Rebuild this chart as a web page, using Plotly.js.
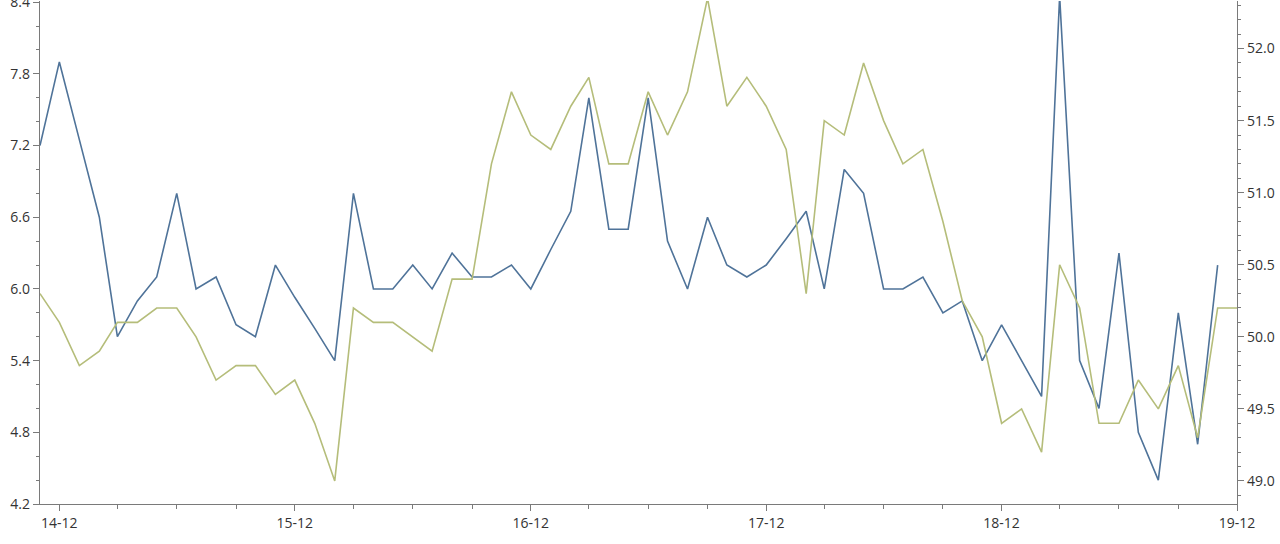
<!DOCTYPE html>
<html>
<head>
<meta charset="utf-8">
<script src="https://cdn.plot.ly/plotly-3.0.1.min.js"></script>
<style>html,body{margin:0;padding:0;background:#fff;}#chart{width:1280px;height:544px;}</style>
</head>
<body>
<div id="chart"></div>
<script>
const months = [
  "2014-11-01","2014-12-01",
  "2015-01-01","2015-02-01","2015-03-01","2015-04-01","2015-05-01","2015-06-01","2015-07-01","2015-08-01","2015-09-01","2015-10-01","2015-11-01","2015-12-01",
  "2016-01-01","2016-02-01","2016-03-01","2016-04-01","2016-05-01","2016-06-01","2016-07-01","2016-08-01","2016-09-01","2016-10-01","2016-11-01","2016-12-01",
  "2017-01-01","2017-02-01","2017-03-01","2017-04-01","2017-05-01","2017-06-01","2017-07-01","2017-08-01","2017-09-01","2017-10-01","2017-11-01","2017-12-01",
  "2018-01-01","2018-02-01","2018-03-01","2018-04-01","2018-05-01","2018-06-01","2018-07-01","2018-08-01","2018-09-01","2018-10-01","2018-11-01","2018-12-01",
  "2019-01-01","2019-02-01","2019-03-01","2019-04-01","2019-05-01","2019-06-01","2019-07-01","2019-08-01","2019-09-01","2019-10-01","2019-11-01","2019-12-01"
];

// Blue series (left axis), 2014-11 .. 2019-11
const blueValues = [
  7.2, 7.9, 7.25, 6.6, 5.6, 5.9, 6.1, 6.8, 6.0, 6.1, 5.7, 5.6,
  6.2, 5.93, 5.67, 5.4, 6.8, 6.0, 6.0, 6.2, 6.0, 6.3, 6.1, 6.1,
  6.2, 6.0, 6.33, 6.65, 7.6, 6.5, 6.5, 7.6, 6.4, 6.0, 6.6, 6.2,
  6.1, 6.2, 6.42, 6.65, 6.0, 7.0, 6.8, 6.0, 6.0, 6.1, 5.8, 5.9,
  5.4, 5.7, 5.4, 5.1, 8.45, 5.4, 5.0, 6.3, 4.8, 4.4, 5.8, 4.7, 6.2
];

// Green series (right axis), 2014-11 .. 2019-12
const greenValues = [
  50.3, 50.1, 49.8, 49.9, 50.1, 50.1, 50.2, 50.2, 50.0, 49.7, 49.8, 49.8,
  49.6, 49.7, 49.4, 49.0, 50.2, 50.1, 50.1, 50.0, 49.9, 50.4, 50.4, 51.2,
  51.7, 51.4, 51.3, 51.6, 51.8, 51.2, 51.2, 51.7, 51.4, 51.7, 52.35, 51.6,
  51.8, 51.6, 51.3, 50.3, 51.5, 51.4, 51.9, 51.5, 51.2, 51.3, 50.8, 50.25,
  50.0, 49.4, 49.5, 49.2, 50.5, 50.2, 49.4, 49.4, 49.7, 49.5, 49.8, 49.3,
  50.2, 50.2
];

const leftTickVals = [4.2, 4.8, 5.4, 6.0, 6.6, 7.2, 7.8, 8.4];
const leftTickText = ["4.2", "4.8", "5.4", "6.0", "6.6", "7.2", "7.8", "8.4"];
const leftRange = [4.2, 8.41];
const rightRange = [48.84, 52.33];
const xRange = ["2014-11-01", "2019-12-01"];

const axisColor = "#7a7a7a";
const textColor = "#333333";

const traces = [
  {
    x: months.slice(0, blueValues.length),
    y: blueValues,
    type: "scatter",
    mode: "lines",
    line: {color: "#4f7399", width: 1.6},
    yaxis: "y",
    hoverinfo: "x+y"
  },
  {
    x: months.slice(0, greenValues.length),
    y: greenValues,
    type: "scatter",
    mode: "lines",
    line: {color: "#b5bd7a", width: 1.6},
    yaxis: "y2",
    hoverinfo: "x+y"
  }
];

const layout = {
  width: 1280,
  height: 544,
  margin: {l: 40, r: 43, t: 1, b: 40, pad: 0},
  paper_bgcolor: "#ffffff",
  plot_bgcolor: "#ffffff",
  showlegend: false,
  font: {family: "Open Sans, Noto Sans, sans-serif", size: 14, color: textColor},
  xaxis: {
    type: "date",
    range: xRange,
    tick0: "2014-12-01",
    dtick: "M12",
    tickformat: "%y-%m",
    ticks: "outside",
    ticklen: 6,
    tickwidth: 1,
    tickcolor: axisColor,
    showline: true,
    linecolor: axisColor,
    linewidth: 1.2,
    showgrid: false,
    zeroline: false,
    tickfont: {size: 14, color: textColor},
    minor: {ticks: "outside", ticklen: 4, tickcolor: axisColor, dtick: "M3", tick0: "2014-12-01", showgrid: false},
    fixedrange: true
  },
  yaxis: {
    range: leftRange,
    tickmode: "array",
    tickvals: leftTickVals,
    ticktext: leftTickText,
    ticklabeloverflow: "allow",
    ticks: "outside",
    ticklen: 6,
    tickwidth: 1,
    tickcolor: axisColor,
    showline: true,
    linecolor: axisColor,
    linewidth: 1.2,
    showgrid: false,
    zeroline: false,
    tickfont: {size: 14, color: textColor},
    minor: {ticks: "outside", ticklen: 3, tickcolor: axisColor, dtick: 0.2, tick0: 4.2, showgrid: false},
    fixedrange: true
  },
  yaxis2: {
    overlaying: "y",
    side: "right",
    range: rightRange,
    tick0: 49.0,
    dtick: 0.5,
    tickformat: ".1f",
    ticks: "outside",
    ticklen: 6,
    tickwidth: 1,
    tickcolor: axisColor,
    showline: true,
    linecolor: axisColor,
    linewidth: 1.2,
    showgrid: false,
    zeroline: false,
    tickfont: {size: 14, color: textColor},
    minor: {ticks: "outside", ticklen: 3, tickcolor: axisColor, dtick: 0.1, tick0: 49.0, showgrid: false},
    fixedrange: true
  }
};

Plotly.newPlot("chart", traces, layout, {staticPlot: true, displayModeBar: false});
</script>
</body>
</html>
